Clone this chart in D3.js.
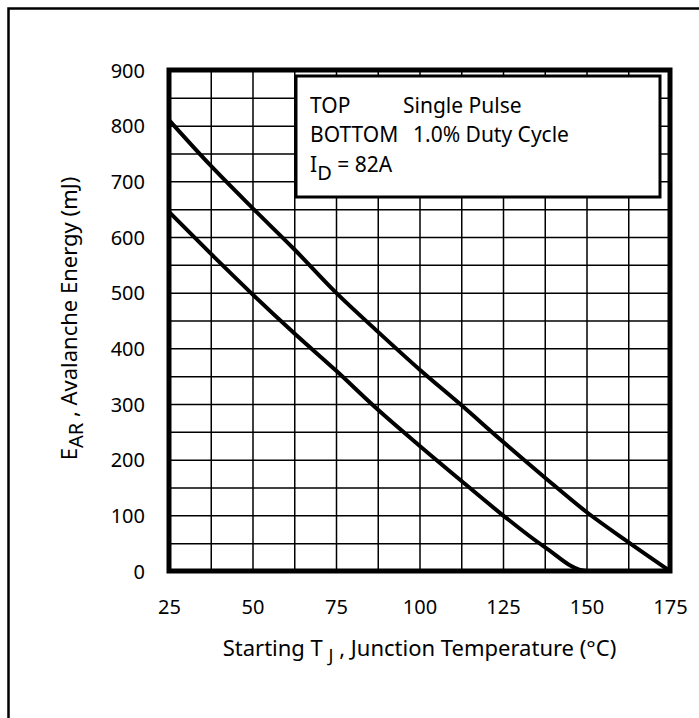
<!DOCTYPE html>
<html>
<head>
<meta charset="utf-8"/>
<title>Avalanche Energy vs Junction Temperature</title>
<style>
body { margin: 0; background: #fff; }
text { font-family: "Noto Sans", sans-serif; fill: #000; }
</style>
</head>
<body>
<div id="chart"></div>
<script src="https://d3js.org/d3.v7.min.js"></script>
<script>
// values
var temps = [25, 37.5, 50, 62.5, 75, 87.5, 100, 112.5, 125, 137.5, 150, 162.5, 175];
var singlePulse = [810, 728, 652, 578, 500, 430, 362, 298, 232, 168, 106, 52, 0];
var dutyCycle = [645, 570, 497, 427, 360, 290, 225, 162, 100, 43, 0, 0, 0];

var xTicks = [25, 50, 75, 100, 125, 150, 175];
var yTicks = [0, 100, 200, 300, 400, 500, 600, 700, 800, 900];
var xGrid = [25, 37.5, 50, 62.5, 75, 87.5, 100, 112.5, 125, 137.5, 150, 162.5, 175];
var yGrid = [0, 50, 100, 150, 200, 250, 300, 350, 400, 450, 500, 550, 600, 650, 700, 750, 800, 850, 900];

var W = 699, H = 718;
// plot box (note: "top" is reserved on window, so use p* names)
var pLeft = 169, pTop = 70, pRight = 670, pBottom = 571;

var svg = d3.select("#chart").append("svg")
    .attr("width", W)
    .attr("height", H);

// outer frame (runs off the right and bottom edge)
svg.append("rect")
    .attr("x", 8.5).attr("y", 8.5)
    .attr("width", 900).attr("height", 900)
    .attr("fill", "none")
    .attr("stroke", "#000")
    .attr("stroke-width", 2.5);

var x = d3.scaleLinear().domain([25, 175]).range([pLeft, pRight]);
var y = d3.scaleLinear().domain([0, 900]).range([pBottom, pTop]);

// grid
svg.append("g")
    .attr("transform", "translate(0," + pBottom + ")")
    .call(d3.axisBottom(x).tickValues(xGrid).tickSize(-(pBottom - pTop)).tickFormat(""))
    .call(function(g) { g.select(".domain").remove(); })
    .selectAll("line").attr("stroke", "#000").attr("stroke-width", 1.5);

svg.append("g")
    .attr("transform", "translate(" + pLeft + ",0)")
    .call(d3.axisLeft(y).tickValues(yGrid).tickSize(-(pRight - pLeft)).tickFormat(""))
    .call(function(g) { g.select(".domain").remove(); })
    .selectAll("line").attr("stroke", "#000").attr("stroke-width", 1.5);

// tick labels
svg.append("g")
    .attr("transform", "translate(0," + pBottom + ")")
    .call(d3.axisBottom(x).tickValues(xTicks).tickSize(0).tickPadding(43).tickFormat(d3.format("d")))
    .call(function(g) { g.select(".domain").remove(); })
    .selectAll("text")
    .style("font-family", '"Noto Sans", sans-serif')
    .style("font-size", "20px")
    .attr("dy", 0);

svg.append("g")
    .attr("transform", "translate(" + pLeft + ",0)")
    .call(d3.axisLeft(y).tickValues(yTicks).tickSize(0).tickPadding(24).tickFormat(d3.format("d")))
    .call(function(g) { g.select(".domain").remove(); })
    .selectAll("text")
    .style("font-family", '"Noto Sans", sans-serif')
    .style("font-size", "20px")
    .attr("dy", "0.35em");

// curves
var line = d3.line()
    .x(function(d) { return x(d[0]); })
    .y(function(d) { return y(d[1]); })
    .curve(d3.curveMonotoneX);

[singlePulse, dutyCycle].forEach(function(series) {
  svg.append("path")
      .datum(temps.map(function(t, i) { return [t, series[i]]; }))
      .attr("d", line)
      .attr("fill", "none")
      .attr("stroke", "#000")
      .attr("stroke-width", 4)
      .attr("stroke-linecap", "round")
      .attr("stroke-linejoin", "round");
});

// plot frame
svg.append("rect")
    .attr("x", pLeft).attr("y", pTop)
    .attr("width", pRight - pLeft).attr("height", pBottom - pTop)
    .attr("fill", "none")
    .attr("stroke", "#000")
    .attr("stroke-width", 5);

// legend box
svg.append("rect")
    .attr("x", 296).attr("y", 76)
    .attr("width", 364).attr("height", 121)
    .attr("fill", "#fff")
    .attr("stroke", "#000")
    .attr("stroke-width", 3);

var leg = svg.append("g").style("font-size", "21px");
leg.append("text").attr("x", 310).attr("y", 113).text("TOP");
leg.append("text").attr("x", 403).attr("y", 113).text("Single Pulse");
leg.append("text").attr("x", 310).attr("y", 142).text("BOTTOM");
leg.append("text").attr("x", 413).attr("y", 142).text("1.0% Duty Cycle");
var id = leg.append("text").attr("x", 310).attr("y", 172);
id.append("tspan").text("I");
id.append("tspan").attr("dy", 8).style("font-size", "20px").text("D");
id.append("tspan").attr("dy", -8).text(" = 82A");

// axis titles
var xt = svg.append("text")
    .attr("x", (pLeft + pRight) / 2)
    .attr("y", 656)
    .attr("text-anchor", "middle")
    .style("font-size", "22px");
xt.append("tspan").text("Starting T ");
xt.append("tspan").attr("dy", 6).style("font-size", "18px").text("J");
xt.append("tspan").attr("dy", -6).text(" , Junction Temperature (°C)");

var yt = svg.append("text")
    .attr("transform", "translate(77," + ((pTop + pBottom) / 2 - 2) + ") rotate(-90)")
    .attr("text-anchor", "middle")
    .style("font-size", "22px");
yt.append("tspan").text("E");
yt.append("tspan").attr("dy", 6).style("font-size", "20px").text("AR");
yt.append("tspan").attr("dy", -6).text(" , Avalanche Energy (mJ)");
</script>
</body>
</html>
